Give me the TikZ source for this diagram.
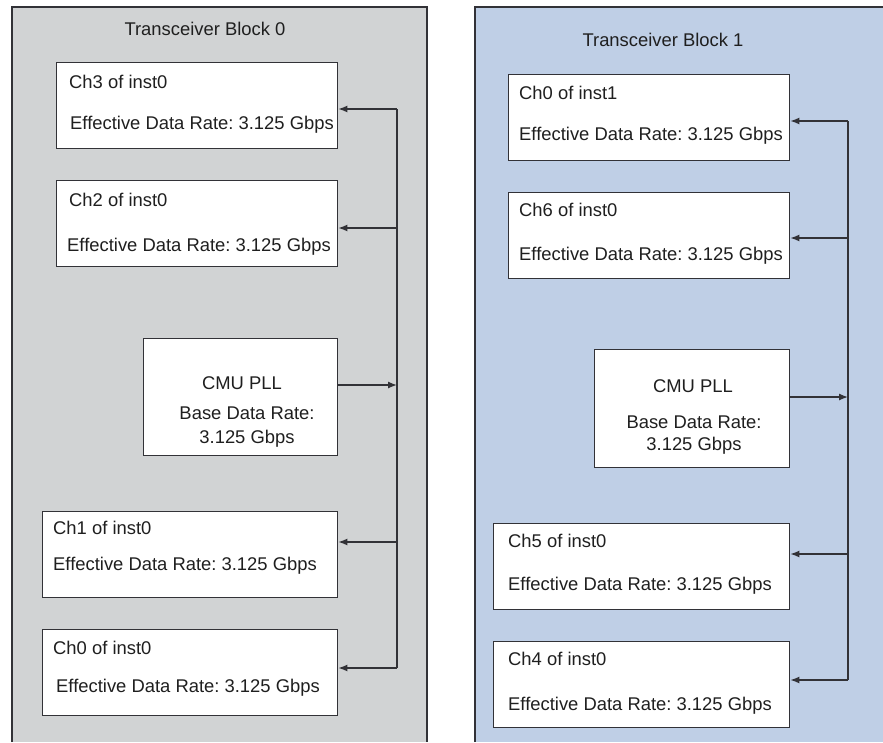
\documentclass[tikz,border=0pt]{standalone}
\usepackage{fontspec}
\setmainfont{Liberation Sans}
\usetikzlibrary{arrows.meta}
\frenchspacing
\definecolor{panelgray}{RGB}{209,211,212}
\definecolor{panelblue}{RGB}{191,207,230}
\definecolor{edge}{RGB}{50,50,55}
\tikzset{
  chbox/.style={draw=edge, line width=1.4pt, fill=white, anchor=north west, inner sep=0pt},
  lbl/.style={anchor=west, inner sep=0pt, text height=13pt, text depth=0pt, font=\fontsize{18.4}{22}\selectfont, text=black!88},
  clbl/.style={lbl, anchor=center},
  bus/.style={draw=edge, line width=1.3pt},
  arr/.style={draw=edge, line width=1.3pt, -{Latex[length=9pt,width=7pt]}},
  panel/.style={draw=edge, line width=1.6pt}
}
\begin{document}
\begin{tikzpicture}[x=1pt,y=-1pt]
\useasboundingbox[fill=white] (0,0) rectangle (883,742);
% panels
\fill[panelgray] (12,7) rectangle (427,742);
\draw[panel] (12,742) -- (12,7) -- (427,7) -- (427,742);
\fill[panelblue] (475,7) rectangle (883,742);
\draw[panel] (475,742) -- (475,7) -- (883,7);
% titles
\node[clbl] (t0) at (205,29) {Transceiver Block 0};
\node[clbl] (t1) at (663,40) {Transceiver Block 1};
% ---- Block 0 ----
\node[chbox, minimum width=281pt, minimum height=86pt] (c3) at (56,62) {};
\node[lbl] (c3a) at (69,82) {Ch3 of inst0};
\node[lbl] (c3b) at (70,123) {Effective Data Rate: 3.125 Gbps};
\node[chbox, minimum width=281pt, minimum height=86pt] (c2) at (56,180) {};
\node[lbl] (c2a) at (69,200) {Ch2 of inst0};
\node[lbl] (c2b) at (67,245) {Effective Data Rate: 3.125 Gbps};
\node[chbox, minimum width=194pt, minimum height=117pt] (p0) at (143,338) {};
\node[clbl] (p0a) at (242,383) {CMU PLL};
\node[clbl] (p0b) at (247,413) {Base Data Rate:};
\node[clbl] (p0c) at (247,437) {3.125 Gbps};
\node[chbox, minimum width=295pt, minimum height=86pt] (c1) at (42,511) {};
\node[lbl] (c1a) at (53,528) {Ch1 of inst0};
\node[lbl] (c1b) at (53,564) {Effective Data Rate: 3.125 Gbps};
\node[chbox, minimum width=295pt, minimum height=86pt] (c0) at (42,629) {};
\node[lbl] (c0a) at (53,648) {Ch0 of inst0};
\node[lbl] (c0b) at (56,686) {Effective Data Rate: 3.125 Gbps};
\coordinate (b0top) at (397,109);
\coordinate (b0c2) at (397,228);
\coordinate (b0p) at (397,385);
\coordinate (b0c1) at (397,542);
\coordinate (b0bot) at (397,668);
\draw[bus] (b0top) -- (b0bot);
\draw[arr] (b0top) -- (b0top -| c3.east);
\draw[arr] (b0c2) -- (b0c2 -| c2.east);
\draw[arr] (b0p -| p0.east) -- (b0p);
\draw[arr] (b0c1) -- (b0c1 -| c1.east);
\draw[arr] (b0bot) -- (b0bot -| c0.east);
% ---- Block 1 ----
\node[chbox, minimum width=281pt, minimum height=86pt] (d0) at (508,74) {};
\node[lbl] (d0a) at (519,93) {Ch0 of inst1};
\node[lbl] (d0b) at (519,134) {Effective Data Rate: 3.125 Gbps};
\node[chbox, minimum width=281pt, minimum height=86pt] (d6) at (508,192) {};
\node[lbl] (d6a) at (519,210) {Ch6 of inst0};
\node[lbl] (d6b) at (519,254) {Effective Data Rate: 3.125 Gbps};
\node[chbox, minimum width=195pt, minimum height=118pt] (p1) at (594,349) {};
\node[clbl] (p1a) at (693,386) {CMU PLL};
\node[clbl] (p1b) at (694,422) {Base Data Rate:};
\node[clbl] (p1c) at (694,444) {3.125 Gbps};
\node[chbox, minimum width=296pt, minimum height=86pt] (d5) at (493,523) {};
\node[lbl] (d5a) at (508,541) {Ch5 of inst0};
\node[lbl] (d5b) at (508,584) {Effective Data Rate: 3.125 Gbps};
\node[chbox, minimum width=296pt, minimum height=86pt] (d4) at (493,641) {};
\node[lbl] (d4a) at (508,659) {Ch4 of inst0};
\node[lbl] (d4b) at (508,704) {Effective Data Rate: 3.125 Gbps};
\coordinate (b1top) at (848,121);
\coordinate (b1c6) at (848,238);
\coordinate (b1p) at (848,397);
\coordinate (b1c5) at (848,554);
\coordinate (b1bot) at (848,680);
\draw[bus] (b1top) -- (b1bot);
\draw[arr] (b1top) -- (b1top -| d0.east);
\draw[arr] (b1c6) -- (b1c6 -| d6.east);
\draw[arr] (b1p -| p1.east) -- (b1p);
\draw[arr] (b1c5) -- (b1c5 -| d5.east);
\draw[arr] (b1bot) -- (b1bot -| d4.east);
\end{tikzpicture}
\end{document}
